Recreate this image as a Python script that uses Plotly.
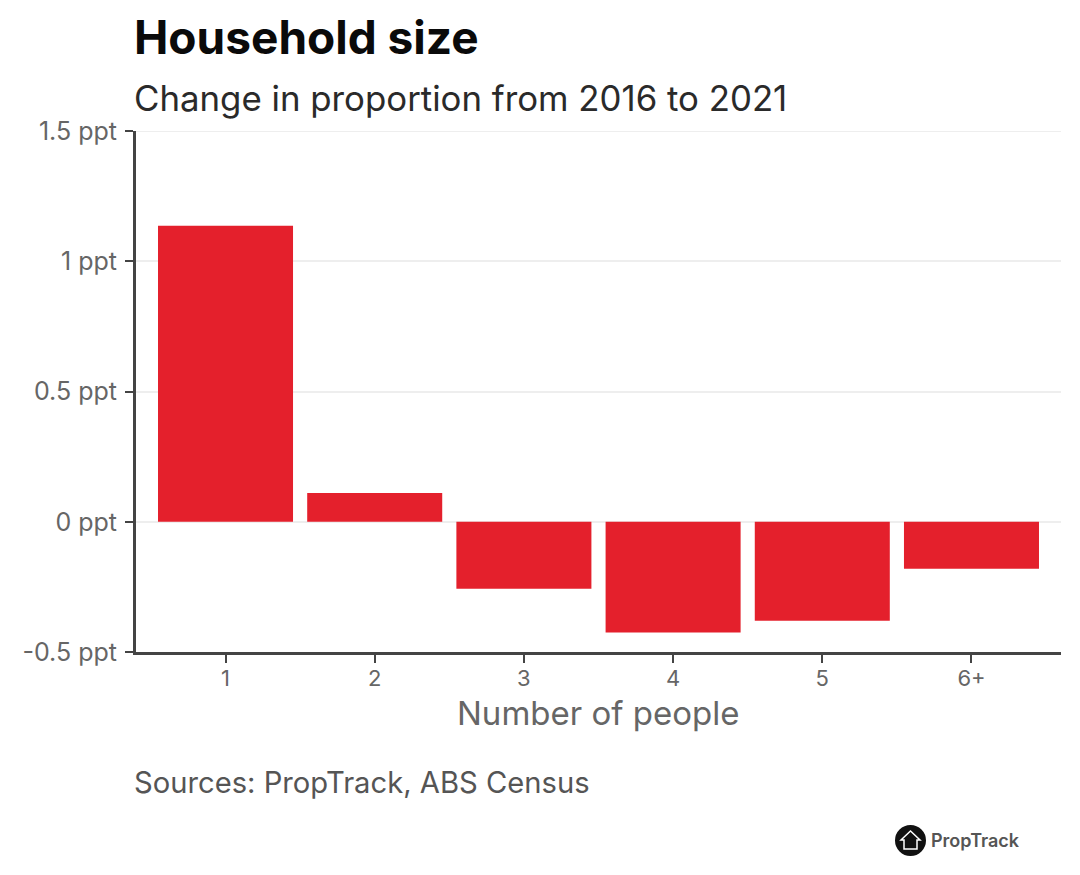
# Household size: change in proportion from 2016 to 2021
import plotly.graph_objects as go

categories = ["1", "2", "3", "4", "5", "6+"]
change_ppt = [1.136, 0.11, -0.257, -0.425, -0.38, -0.18]
y_ticks = [-0.5, 0, 0.5, 1, 1.5]
y_labels = ["-0.5 ppt", "0 ppt", "0.5 ppt", "1 ppt", "1.5 ppt"]

W, H = 1080, 875
L, R, T, B = 136, 1061, 131, 652
OFFSET = 8  # the page body has an 8px margin
FONT = "Inter"
DARK = "#444444"
GREY = "#666666"
GRID = "#EEEEEE"


# paper coordinates run over the plot area, so convert from picture pixels
def px(x):
    return (x - L) / (R - L)


def py(y):
    return (B - y) / (B - T)


def label(x, y, text, size, color, weight=400, anchor="left"):
    return dict(xref="paper", yref="paper", x=px(x), y=py(y), text=text, showarrow=False,
                xanchor=anchor, yanchor="middle",
                font=dict(family=FONT, size=size, color=color, weight=weight))


def house(pts):
    return "M " + " L ".join(f"{px(x)} {py(y)}" for x, y in pts) + " Z"


fig = go.Figure(go.Bar(
    x=categories,
    y=change_ppt,
    marker=dict(color="#E4202C", line_width=0),
    hoverinfo="skip",
))

fig.update_layout(
    width=W - 2 * OFFSET, height=H - 2 * OFFSET,
    margin=dict(l=L - OFFSET, r=W - R - OFFSET, t=T - OFFSET, b=H - B - OFFSET, pad=0),
    paper_bgcolor="white",
    plot_bgcolor="white",
    showlegend=False,
    bargap=0.095,
    font=dict(family=FONT, color=GREY),
    annotations=[
        label(132, 37, "Household size", 46, "#0A0A0A", 700),
        label(132, 98, "Change in proportion from 2016 to 2021", 34.8, "#2A2A2A"),
        label(598, 713, "Number of people", 33, GREY, anchor="center"),
        label(132, 782, "Sources: PropTrack, ABS Census", 29.2, "#555555"),
        label(929, 840, "PropTrack", 18, "#555555", 600),
    ],
    shapes=[
        # top gridline sits on the plot edge, plotly skips it
        dict(type="line", xref="paper", yref="y", x0=0, x1=1, y0=y_ticks[-1], y1=y_ticks[-1],
             line=dict(color=GRID, width=2), layer="below"),
        dict(type="circle", xref="paper", yref="paper", x0=px(895), x1=px(926), y0=py(856), y1=py(825),
             fillcolor="#111111", line_width=0),
        dict(type="path", xref="paper", yref="paper",
             path=house([(910.5, 831), (920, 840), (917, 840), (917, 849), (904, 849), (904, 840), (901, 840)]),
             fillcolor="#111111", line=dict(color="white", width=1.5)),
    ],
)

fig.update_xaxes(
    type="category",
    range=[-0.6, 5.6],
    showline=True, linecolor=DARK, linewidth=3,
    ticks="outside", ticklen=8, tickwidth=2, tickcolor=DARK,
    ticklabelstandoff=-3,
    tickfont=dict(size=22, color=GREY),
    showgrid=False,
)
fig.update_yaxes(
    range=[-0.5, 1.5],
    tickvals=y_ticks,
    ticktext=y_labels,
    showline=True, linecolor=DARK, linewidth=3,
    ticks="outside", ticklen=8, tickwidth=2, tickcolor=DARK,
    ticklabelstandoff=3,
    tickfont=dict(size=25, color=GREY),
    showgrid=True, gridcolor=GRID, gridwidth=2,
    zeroline=True, zerolinecolor=GRID, zerolinewidth=2,
)

fig.write_html("out.html")
